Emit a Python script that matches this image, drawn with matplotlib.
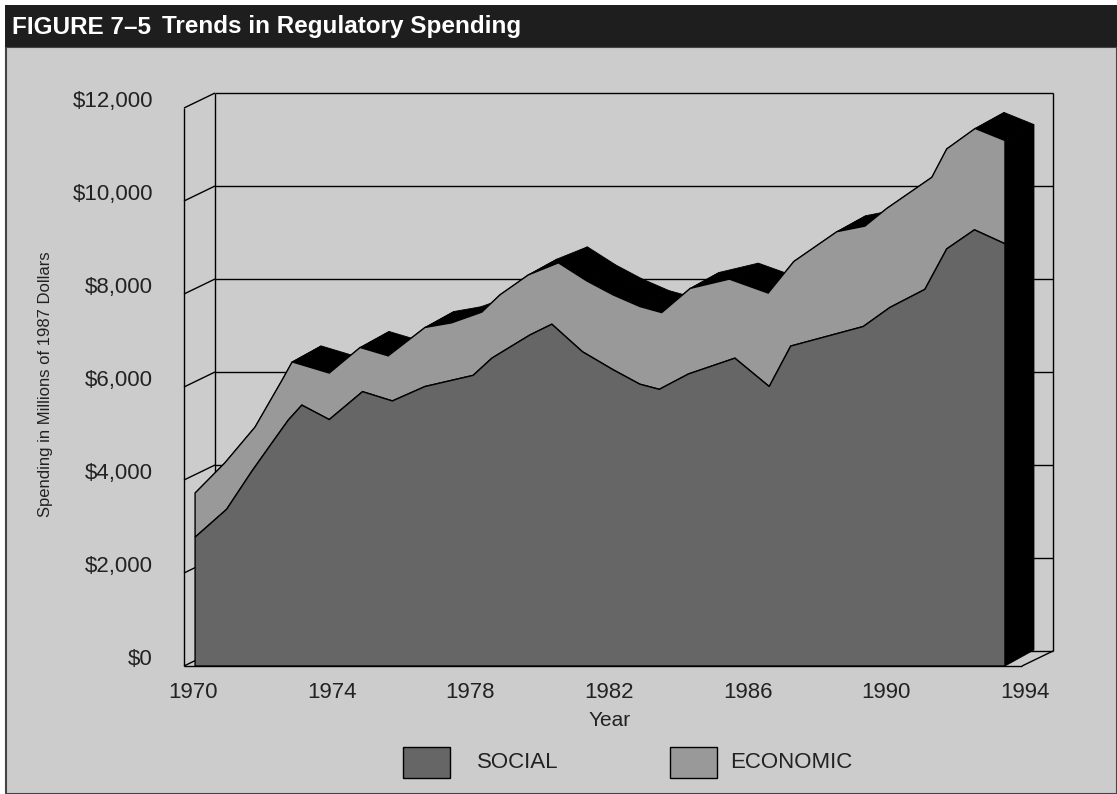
import matplotlib
matplotlib.use("Agg")
import matplotlib.pyplot as plt
from matplotlib.patches import Polygon, Rectangle

# --- data (front face of the 3-D area chart) ---
social_years = [1970.06, 1970.97, 1971.69, 1972.27, 1972.75, 1973.14, 1973.93, 1974.89,
                1975.75, 1976.69, 1978.08, 1978.62, 1979.72, 1980.35, 1981.23, 1982.12,
                1982.89, 1983.45, 1984.29, 1985.63, 1986.62, 1987.24, 1989.33, 1990.10,
                1991.11, 1991.74, 1992.54, 1993.42]
social = [2770, 3370, 4180, 4790, 5290, 5610, 5300, 5900,
          5700, 6010, 6250, 6620, 7120, 7350, 6760, 6370,
          6060, 5950, 6280, 6620, 6010, 6880, 7300, 7710,
          8100, 8970, 9380, 9080]

# social + economic (top of the stack)
total_years = [1970.06, 1970.92, 1971.79, 1972.57, 1972.86, 1973.93, 1974.82, 1975.63,
               1976.69, 1977.46, 1978.33, 1978.85, 1979.67, 1980.54, 1981.36, 1982.12,
               1982.89, 1983.52, 1984.34, 1985.47, 1986.59, 1987.33, 1988.57, 1989.38,
               1990.01, 1991.31, 1991.74, 1992.56, 1993.42]
total = [3720, 4370, 5140, 6150, 6540, 6300, 6850, 6670,
         7280, 7380, 7610, 7980, 8410, 8670, 8280, 7980,
         7730, 7600, 8120, 8320, 8020, 8700, 9340, 9460,
         9840, 10510, 11120, 11560, 11300]

x_ticks = [1970, 1974, 1978, 1982, 1986, 1990, 1994]
y_ticks = [0, 2000, 4000, 6000, 8000, 10000, 12000]
y_tick_labels = ['$0', '$2,000', '$4,000', '$6,000', '$8,000', '$10,000', '$12,000']
series_names = ['SOCIAL', 'ECONOMIC']
series_colors = ['#666666', '#999999']

# --- layout (pixels) ---
W, H = 1117, 794
BG = '#cccccc'
TXT = '#222222'
PX_YEAR = 34.67      # pixels per year
PX_K = 46.5          # pixels per $1000
X1970 = 193          # pixel of 1970
Y0 = 666             # pixel of $0 (front)


def fx(p):
    return p / W


def fy(p):
    return 1 - p / H


fig = plt.figure(figsize=(W / 100, H / 100), dpi=100)
fig.patch.set_facecolor('white')
ax = fig.add_axes([0, 0, 1, 1])
ax.set_zorder(1)
ax.set_xlim(1970 - X1970 / PX_YEAR, 1970 + (W - X1970) / PX_YEAR)
ax.set_ylim(-(H - Y0) / PX_K * 1000, Y0 / PX_K * 1000)
ax.axis('off')

# panel + title bar
fig.patches.append(Rectangle((fx(6), 0), 1 - fx(6), fy(47), transform=fig.transFigure,
                             fc=BG, ec='#444444', lw=1.5, zorder=-10))
fig.patches.append(Rectangle((fx(5), fy(47)), 1 - fx(5), fy(5) - fy(47),
                             transform=fig.transFigure, fc='#1e1e1e', ec='none', zorder=-10))
title_font = ['Liberation Sans', 'DejaVu Sans']
fig.text(fx(12), fy(27), 'FIGURE 7–5', color='white', fontsize=17.5, fontweight='bold',
         family=title_font, va='center', ha='left')
fig.text(fx(162), fy(27), 'Trends in Regulatory Spending', color='white', fontsize=17.5,
         fontweight='bold', family=title_font, va='center', ha='left')

# depth offsets (data units)
WDX, WDY = 31 / PX_YEAR, 15 / PX_K * 1000    # walls
ADX, ADY = 29 / PX_YEAR, 16 / PX_K * 1000    # area body
xf0 = 1970 + (184 - X1970) / PX_YEAR         # floor front-left
xf1 = 1970 + (1022 - X1970) / PX_YEAR        # floor front-right
ymax = y_ticks[-1]

lk = dict(color='black', lw=1.0, zorder=1, solid_capstyle='butt')
# back wall
for v in y_ticks:
    ax.plot([xf0 + WDX, xf1 + WDX], [v + WDY, v + WDY], **lk)
ax.plot([xf0 + WDX, xf0 + WDX], [WDY, ymax + WDY], **lk)
ax.plot([xf1 + WDX, xf1 + WDX], [WDY, ymax + WDY], **lk)
# left side wall
ax.plot([xf0, xf0], [0, ymax], **lk)
for v in y_ticks:
    ax.plot([xf0, xf0 + WDX], [v, v + WDY], **lk)
# floor
ax.plot([xf0, xf1], [0, 0], **lk)
ax.plot([xf1, xf1 + WDX], [0, WDY], **lk)

# black top surface of the stack
for i in range(len(total_years) - 1):
    x0, x1 = total_years[i], total_years[i + 1]
    t0, t1 = total[i], total[i + 1]
    ax.add_patch(Polygon([(x0, t0), (x1, t1), (x1 + ADX, t1 + ADY), (x0 + ADX, t0 + ADY)],
                         closed=True, fc='black', ec='black', lw=0.6, zorder=2))
xe, te = total_years[-1], total[-1]
ax.add_patch(Polygon([(xe, 0), (xe, te), (xe + ADX, te + ADY), (xe + ADX, ADY)],
                     closed=True, fc='black', ec='black', lw=0.6, zorder=2))

# front faces
econ_pts = list(zip(total_years, total)) + list(zip(social_years[::-1], social[::-1]))
ax.add_patch(Polygon(econ_pts, closed=True, fc=series_colors[1], ec='black', lw=1.0,
                     joinstyle='miter', zorder=3))
soc_pts = [(social_years[0], 0)] + list(zip(social_years, social)) + [(social_years[-1], 0)]
ax.add_patch(Polygon(soc_pts, closed=True, fc=series_colors[0], ec='black', lw=1.0,
                     joinstyle='miter', zorder=4))

# tick labels
lab_font = ['Liberation Sans', 'DejaVu Sans']
for yr in x_ticks:
    ax.text(yr, -(692 - Y0) / PX_K * 1000, str(yr), ha='center', va='center',
            fontsize=16, color=TXT, family=lab_font)
for v, s in zip(y_ticks, y_tick_labels):
    ax.text(1970 + (153 - X1970) / PX_YEAR, v + 150, s, ha='right', va='center',
            fontsize=16, color=TXT, family=lab_font)
ax.text(1970 + (610 - X1970) / PX_YEAR, -(720 - Y0) / PX_K * 1000, 'Year', ha='center',
        va='center', fontsize=15, color=TXT, family=lab_font)
ax.text(1970 + (46 - X1970) / PX_YEAR, (Y0 - 384) / PX_K * 1000,
        'Spending in Millions of 1987 Dollars', rotation=90, ha='center', va='center',
        fontsize=12, color=TXT, family=lab_font)

# legend
for (bx, tx), name, col in zip([(403, 477), (670, 730)], series_names, series_colors):
    fig.patches.append(Rectangle((fx(bx), fy(778)), fx(47), fy(747) - fy(778),
                                 transform=fig.transFigure, fc=col, ec='black', lw=1.0,
                                 zorder=5))
    fig.text(fx(tx), fy(762), name, ha='left', va='center', fontsize=16, color=TXT,
             family=lab_font)

fig.savefig('out.png', dpi=100, facecolor=fig.get_facecolor())
